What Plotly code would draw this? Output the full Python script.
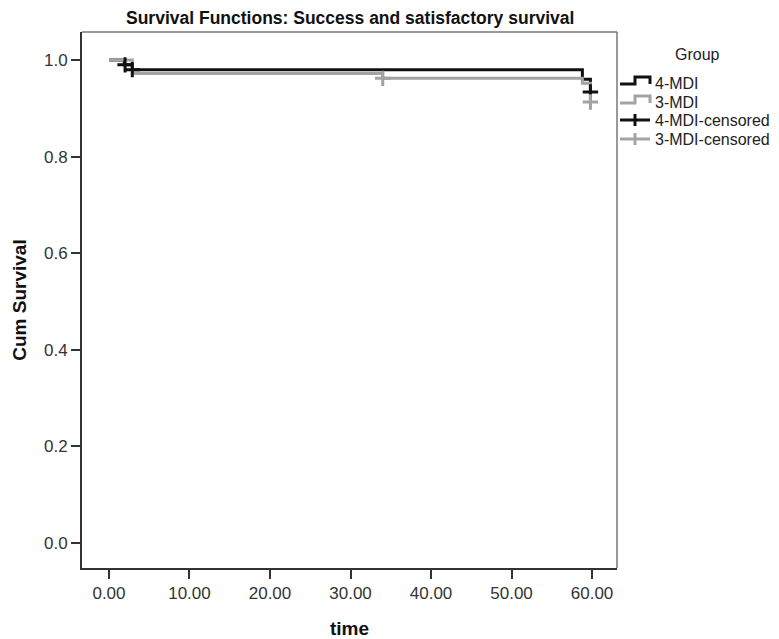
import plotly.graph_objects as go

# ---- data ----
black_t = [0.0, 1.9, 1.9, 2.9, 2.9, 58.8, 58.8, 59.8, 59.8]
black_s = [1.0, 1.0, 0.990, 0.990, 0.980, 0.980, 0.960, 0.960, 0.934]
black_cens_t = [2.0, 2.9, 59.8]
black_cens_s = [0.990, 0.980, 0.934]

gray_t = [0.0, 2.9, 2.9, 34.0, 34.0, 58.8, 58.8, 59.8, 59.8]
gray_s = [1.0, 1.0, 0.972, 0.972, 0.962, 0.962, 0.952, 0.952, 0.913]
gray_cens_t = [34.0, 59.8]
gray_cens_s = [0.962, 0.913]

x_ticks = [0, 10, 20, 30, 40, 50, 60]
y_ticks = [0.0, 0.2, 0.4, 0.6, 0.8, 1.0]

group_names = ["4-MDI", "3-MDI", "4-MDI-censored", "3-MDI-censored"]

BLACK = "#111111"
GRAY = "#a3a3a3"
FONT = "Liberation Sans, Arial, sans-serif"

# ---- figure geometry (page has an 8px body margin) ----
W, H = 771, 631
ML, MR, MT, MB = 74, 162, 24, 71
PW, PH = W - ML - MR, H - MT - MB
OFF = 8


def px(page_x):
    return (page_x - OFF - ML) / PW


def py(page_y):
    return (H - MB - (page_y - OFF)) / PH


fig = go.Figure()

fig.add_trace(go.Scatter(x=black_t, y=black_s, mode="lines", name=group_names[0],
                         line=dict(color=BLACK, width=3, shape="hv"), showlegend=False))
fig.add_trace(go.Scatter(x=gray_t, y=gray_s, mode="lines", name=group_names[1],
                         line=dict(color=GRAY, width=3, shape="hv"), showlegend=False))
fig.add_trace(go.Scatter(x=black_cens_t, y=black_cens_s, mode="markers", name=group_names[2],
                         showlegend=False,
                         marker=dict(symbol="cross-thin", size=11, color=BLACK,
                                     line=dict(color=BLACK, width=3))))
fig.add_trace(go.Scatter(x=gray_cens_t, y=gray_cens_s, mode="markers", name=group_names[3],
                         showlegend=False,
                         marker=dict(symbol="cross-thin", size=11, color=GRAY,
                                     line=dict(color=GRAY, width=3))))

fig.update_layout(
    width=W, height=H,
    margin=dict(l=ML, r=MR, t=MT, b=MB),
    paper_bgcolor="white", plot_bgcolor="white",
    font=dict(family=FONT, size=17, color="#333333"),
    showlegend=False,
)

fig.update_xaxes(
    range=[-3.35, 63.1], tickvals=x_ticks, tickformat=".2f",
    ticks="outside", ticklen=9, tickwidth=1.5, tickcolor="#333333",
    tickfont=dict(size=17, color="#333333"),
    showgrid=False, zeroline=False, automargin=False,
    showline=True, linecolor="#333333", linewidth=2, mirror=False,
    title=dict(text="<b>time</b>", font=dict(family=FONT, size=19, color="#111111"), standoff=20),
)
fig.update_yaxes(
    range=[-0.052, 1.058], tickvals=y_ticks, tickformat=".1f",
    ticks="outside", ticklen=9, tickwidth=1.5, tickcolor="#333333",
    tickfont=dict(size=17, color="#333333"),
    showgrid=False, zeroline=False, automargin=False,
    showline=True, linecolor="#333333", linewidth=2, mirror=False,
    title=dict(text="<b>Cum Survival</b>", font=dict(family=FONT, size=19, color="#111111"), standoff=12),
)

# light frame on top and right sides
fig.add_shape(type="line", xref="paper", yref="paper", x0=0, x1=1, y0=1, y1=1,
              line=dict(color="#777777", width=1.5))
fig.add_shape(type="line", xref="paper", yref="paper", x0=1, x1=1, y0=0, y1=1,
              line=dict(color="#777777", width=1.5))

# title
fig.add_annotation(text="<b>Survival Functions: Success and satisfactory survival</b>",
                   xref="paper", yref="paper", x=px(350), y=py(18),
                   xanchor="center", yanchor="middle", showarrow=False,
                   font=dict(family=FONT, size=17.5, color="#111111"))

# ---- legend (drawn to match the SPSS legend) ----
fig.add_annotation(text="Group", xref="paper", yref="paper", x=px(697), y=py(55),
                   xanchor="center", yanchor="middle", showarrow=False,
                   font=dict(family=FONT, size=16, color="#222222"))
rows = [83, 102, 120, 139]
colors = [BLACK, GRAY, BLACK, GRAY]
for i, (name, yy, col) in enumerate(zip(group_names, rows, colors)):
    fig.add_annotation(text=name, xref="paper", yref="paper", x=px(653), y=py(yy),
                       xanchor="left", yanchor="middle", showarrow=False,
                       font=dict(family=FONT, size=16, color="#222222"))
    if i < 2:
        path = (f"M {px(620)},{py(yy + 1)} L {px(635)},{py(yy + 1)} L {px(635)},{py(yy - 6)} "
                f"L {px(650)},{py(yy - 6)} L {px(650)},{py(yy + 1)}")
        fig.add_shape(type="path", xref="paper", yref="paper", path=path,
                      line=dict(color=col, width=3))
    else:
        fig.add_shape(type="line", xref="paper", yref="paper",
                      x0=px(620), x1=px(650), y0=py(yy), y1=py(yy),
                      line=dict(color=col, width=3))
        fig.add_shape(type="line", xref="paper", yref="paper",
                      x0=px(635), x1=px(635), y0=py(yy - 6), y1=py(yy + 6),
                      line=dict(color=col, width=3))

fig.write_html("out.html")
